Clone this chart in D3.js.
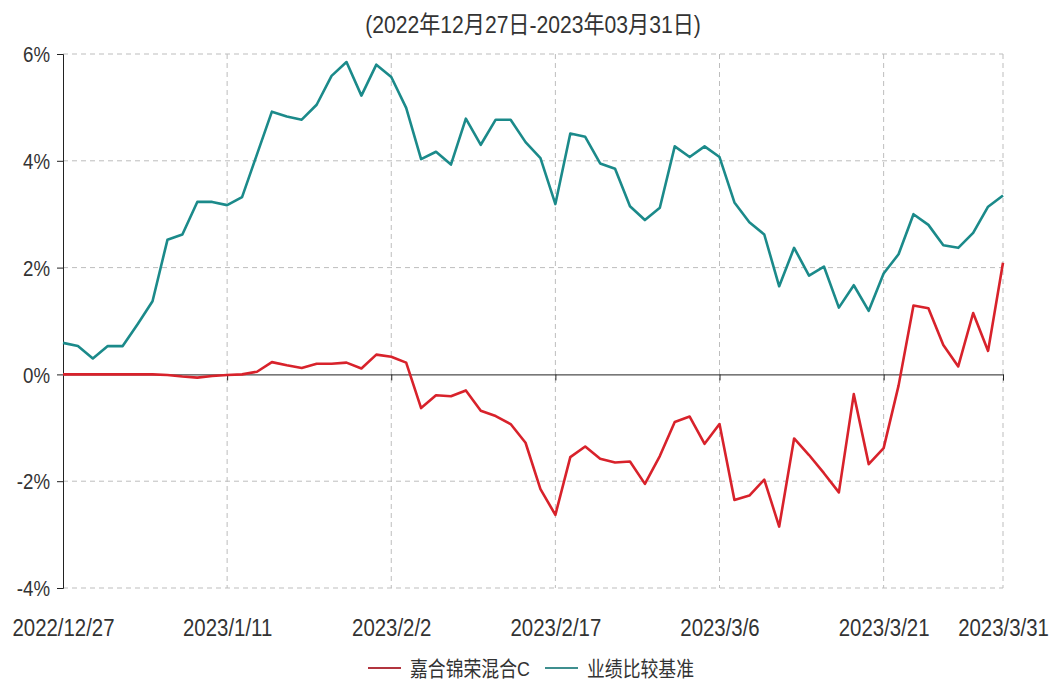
<!DOCTYPE html>
<html>
<head>
<meta charset="utf-8">
<script src="https://cdn.jsdelivr.net/npm/d3@7"></script>
<style>
  body { margin: 0; background: #fff; }
  svg { font-family: "Liberation Sans", "Noto Sans CJK SC", sans-serif; }
</style>
</head>
<body>
<svg id="chart"></svg>
<script>
const dates = [
    "2022/12/27", "2022/12/28", "2022/12/29", "2022/12/30", "2022/12/31",
    "2023/1/3", "2023/1/4", "2023/1/5", "2023/1/6", "2023/1/9", "2023/1/10", "2023/1/11",
    "2023/1/12", "2023/1/13", "2023/1/16", "2023/1/17", "2023/1/18", "2023/1/19", "2023/1/20",
    "2023/1/30", "2023/1/31", "2023/2/1", "2023/2/2", "2023/2/3", "2023/2/6", "2023/2/7",
    "2023/2/8", "2023/2/9", "2023/2/10", "2023/2/13", "2023/2/14", "2023/2/15", "2023/2/16",
    "2023/2/17", "2023/2/20", "2023/2/21", "2023/2/22", "2023/2/23", "2023/2/24", "2023/2/27",
    "2023/2/28", "2023/3/1", "2023/3/2", "2023/3/3", "2023/3/6", "2023/3/7", "2023/3/8",
    "2023/3/9", "2023/3/10", "2023/3/13", "2023/3/14", "2023/3/15", "2023/3/16", "2023/3/17",
    "2023/3/20", "2023/3/21", "2023/3/22", "2023/3/23", "2023/3/24", "2023/3/27", "2023/3/28",
    "2023/3/29", "2023/3/30", "2023/3/31"
];

// 嘉合锦荣混合C (%)
const fundValues = [
    0, 0, 0, 0, 0, 0, 0, -0.01, -0.04, -0.06, -0.03, -0.01,
    0, 0.05, 0.23, 0.17, 0.12, 0.2, 0.2, 0.22, 0.11, 0.37, 0.33,
    0.22, -0.63, -0.39, -0.41, -0.3, -0.68, -0.78, -0.93, -1.28, -2.15, -2.63,
    -1.55, -1.35, -1.58, -1.65, -1.63, -2.05, -1.53, -0.89, -0.79, -1.3, -0.93,
    -2.35, -2.27, -1.97, -2.85, -1.2, -1.51, -1.85, -2.21, -0.37, -1.68, -1.38,
    -0.21, 1.29, 1.24, 0.55, 0.15, 1.15, 0.44, 2.09
];

// 业绩比较基准 (%)
const benchValues = [
    0.59, 0.53, 0.3, 0.53, 0.53, 0.94, 1.37, 2.52, 2.62, 3.23, 3.23, 3.17,
    3.32, 4.12, 4.92, 4.83, 4.77, 5.05, 5.59, 5.85, 5.22, 5.8, 5.57,
    4.99, 4.03, 4.17, 3.93, 4.79, 4.3, 4.77, 4.77, 4.35, 4.05, 3.19,
    4.51, 4.45, 3.95, 3.85, 3.15, 2.89, 3.12, 4.27, 4.07, 4.27, 4.07,
    3.22, 2.85, 2.62, 1.65, 2.37, 1.85, 2.02, 1.25, 1.67, 1.19, 1.89,
    2.25, 3.0, 2.8, 2.42, 2.37, 2.65, 3.14, 3.35
];

const tickDates = ["2022/12/27", "2023/1/11", "2023/2/2", "2023/2/17", "2023/3/6", "2023/3/21", "2023/3/31"];
const yTicks = [-4, -2, 0, 2, 4, 6];
const seriesNames = ["嘉合锦荣混合C", "业绩比较基准"];
const title = "(2022年12月27日-2023年03月31日)";

const width = 1050;
const height = 682;
const plotLeft = 63, plotRight = 1003, plotTop = 54, plotBottom = 588;
const colors = ["#d8222b", "#1b8a8a"];
const squeeze = 0.85; // reference text is drawn in a narrow face

const svg = d3.select("#chart").attr("width", width).attr("height", height);

const x = d3.scalePoint().domain(dates).range([plotLeft, plotRight]);
const y = d3.scaleLinear().domain([-4, 6]).range([plotBottom, plotTop]);

// title
svg.append("text")
    .attr("transform", `translate(533,25) scale(0.88,1)`)
    .attr("text-anchor", "middle")
    .attr("dominant-baseline", "central")
    .style("font-size", "24px")
    .style("fill", "#333")
    .text(title);

// grid lines
const grid = svg.append("g")
    .attr("stroke", "#bdbdbd")
    .attr("stroke-dasharray", "5,4")
    .attr("stroke-width", 1);

grid.selectAll(".h")
    .data(yTicks.filter((d) => d !== 0))
    .join("line")
    .attr("x1", plotLeft)
    .attr("x2", plotRight)
    .attr("y1", (d) => y(d))
    .attr("y2", (d) => y(d));

grid.selectAll(".v")
    .data(tickDates.slice(1))
    .join("line")
    .attr("x1", (d) => x(d))
    .attr("x2", (d) => x(d))
    .attr("y1", plotTop)
    .attr("y2", plotBottom);

// y axis
const yAxis = svg.append("g")
    .attr("transform", `translate(${plotLeft},0)`)
    .call(d3.axisLeft(y).tickValues(yTicks).tickFormat((d) => d + "%").tickSize(6));
yAxis.select(".domain").attr("stroke", "#222");
yAxis.selectAll(".tick line").attr("stroke", "#222");
yAxis.selectAll("text")
    .attr("x", -13 / squeeze)
    .attr("dy", "0.35em")
    .attr("transform", `scale(${squeeze},1)`)
    .style("font-size", "22px")
    .style("fill", "#333");

// x axis on zero line, labels below plot
const xAxis = svg.append("g")
    .attr("transform", `translate(0,${y(0)})`)
    .call(d3.axisBottom(x).tickValues(tickDates).tickSizeOuter(0).tickSize(6));
xAxis.select(".domain").attr("stroke", "#222");
xAxis.selectAll(".tick line").attr("stroke", "#222");
xAxis.selectAll("text")
    .attr("y", 628 - y(0))
    .attr("dy", "0.35em")
    .attr("transform", `scale(${squeeze},1)`)
    .style("font-size", "24px")
    .style("fill", "#333");

// lines
const line = d3.line()
    .x((d, i) => x(dates[i]))
    .y((d) => y(d));

[fundValues, benchValues].forEach((vals, k) => {
    svg.append("path")
        .datum(vals)
        .attr("fill", "none")
        .attr("stroke", colors[k])
        .attr("stroke-width", 2.6)
        .attr("stroke-linejoin", "round")
        .attr("d", line);
});

// legend
const legendX = [368, 545];
const legend = svg.append("g");
seriesNames.forEach((name, k) => {
    legend.append("line")
        .attr("x1", legendX[k])
        .attr("x2", legendX[k] + 33)
        .attr("y1", 668)
        .attr("y2", 668)
        .attr("stroke", k === 0 ? "#b2353f" : "#3f8f8f")
        .attr("stroke-width", 2);
    legend.append("text")
        .attr("transform", `translate(${legendX[k] + 42},668) scale(${squeeze},1)`)
        .attr("dominant-baseline", "central")
        .style("font-size", "21px")
        .style("fill", "#333")
        .text(name);
});
</script>
</body>
</html>
